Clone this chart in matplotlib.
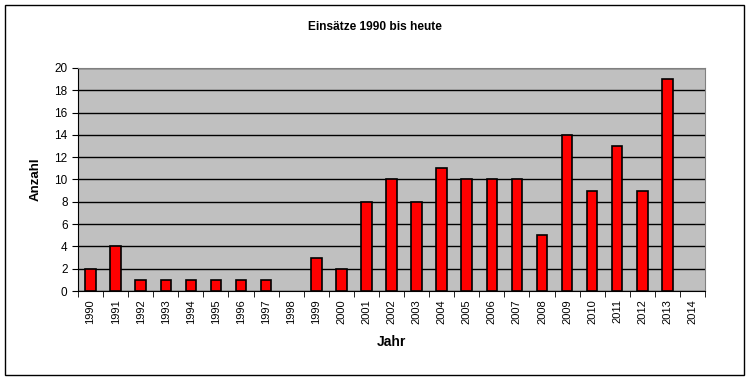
import matplotlib.pyplot as plt
import numpy as np
from matplotlib.patches import Rectangle

plt.rcParams["font.family"] = ["Liberation Sans", "DejaVu Sans"]

years = [str(y) for y in range(1990, 2015)]
einsaetze = [2, 4, 1, 1, 1, 1, 1, 1, 0, 3, 2, 8, 10, 8, 11, 10, 10, 10, 5, 14, 9, 13, 9, 19, 0]

fig = plt.figure(figsize=(7.5, 3.8), dpi=100)
ax = fig.add_axes([78 / 750, 89 / 380, 627 / 750, 223 / 380])
ax.set_facecolor("#c0c0c0")

x = np.arange(len(years))
# zero bars get no outline so nothing shows at 1998 / 2014
edge_widths = [1.2 if v > 0 else 0 for v in einsaetze]
ax.bar(x, einsaetze, width=0.42, color="#ff0000", edgecolor="black",
       linewidth=edge_widths, zorder=3)

ax.set_xlim(-0.5, len(years) - 0.5)
ax.set_ylim(0, 20)
ax.set_yticks(range(0, 21, 2))
ax.yaxis.grid(True, color="black", linewidth=1, zorder=1)
ax.set_axisbelow(True)

ax.set_xticks(x)
ax.set_xticklabels(years, rotation=90, fontsize=8)
ax.set_xticks(np.arange(-0.5, len(years)), minor=True)
ax.tick_params(axis="x", which="major", length=0, pad=6)
ax.tick_params(axis="x", which="minor", length=4, direction="out", color="black")
ax.tick_params(axis="y", length=4, direction="out", labelsize=8.5, color="black")

for side in ("top", "right"):
    ax.spines[side].set_color("#808080")
for side in ("left", "bottom"):
    ax.spines[side].set_color("black")

ax.set_ylabel("Anzahl", fontsize=9.5, fontweight="bold", labelpad=9)
ax.set_xlabel("Jahr", fontsize=10, fontweight="bold", labelpad=8)
fig.text(0.5, 1 - 27 / 380, "Einsätze 1990 bis heute", ha="center", va="center",
         fontsize=8.6, fontweight="bold")

fig.patches.append(Rectangle((5 / 750, 5 / 380), 739 / 750, 370 / 380, transform=fig.transFigure,
                             fill=False, edgecolor="black", linewidth=1))

fig.savefig("out.png", dpi=100)
